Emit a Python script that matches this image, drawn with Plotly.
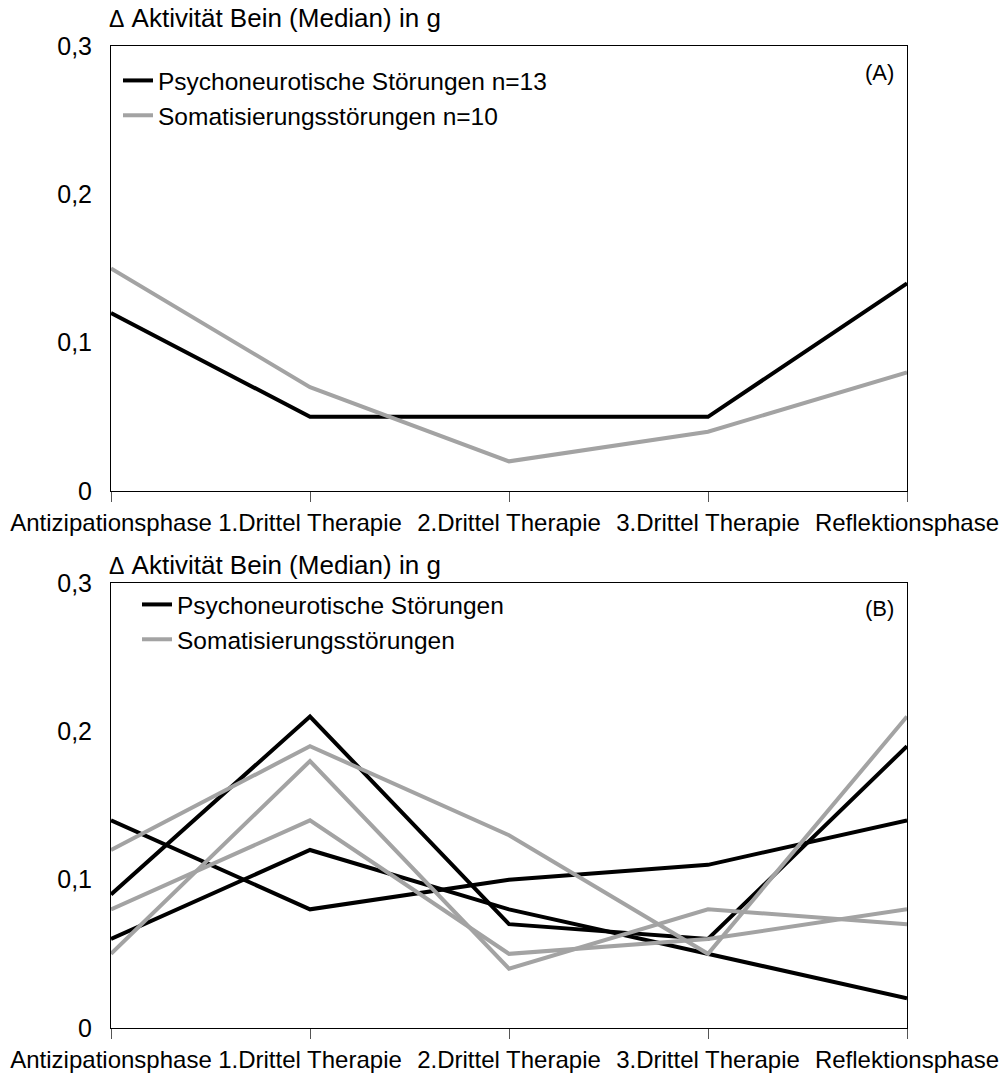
import plotly.graph_objects as go

# ---------------- data ----------------
categories = ["Antizipationsphase", "1.Drittel Therapie", "2.Drittel Therapie",
              "3.Drittel Therapie", "Reflektionsphase"]

# Panel A (group medians)
a_psycho = [0.12, 0.05, 0.05, 0.05, 0.14]
a_somat = [0.15, 0.07, 0.02, 0.04, 0.08]
a_names = ["Psychoneurotische Störungen n=13", "Somatisierungsstörungen n=10"]

# Panel B (individual series)
b_psycho_1 = [0.09, 0.21, 0.07, 0.06, 0.19]
b_psycho_2 = [0.14, 0.08, 0.10, 0.11, 0.14]
b_psycho_3 = [0.06, 0.12, 0.08, 0.05, 0.02]
b_somat_1 = [0.12, 0.19, 0.13, 0.05, 0.21]
b_somat_2 = [0.05, 0.18, 0.04, 0.08, 0.07]
b_somat_3 = [0.08, 0.14, 0.05, 0.06, 0.08]
b_names = ["Psychoneurotische Störungen", "Somatisierungsstörungen"]

y_tickvals = [0, 0.1, 0.2, 0.3]
y_ticktext = ["0", "0,1", "0,2", "0,3"]
y_title = "Aktivität Bein (Median) in g"
panel_labels = ["(A)", "(B)"]

# ---------------- style ----------------
FONT = "Liberation Sans, Arial, sans-serif"
BLACK = "#000000"
GREY = "#a3a3a3"
W, H = 1000, 1073

def px_x(x):
    return x / W

def px_y(y):
    return 1 - y / H

fig = go.Figure()

# Panel A
for vals, name, col in [(a_psycho, a_names[0], BLACK), (a_somat, a_names[1], GREY)]:
    fig.add_trace(go.Scatter(x=categories, y=vals, mode="lines", name=name,
                             line=dict(color=col, width=4),
                             xaxis="x", yaxis="y", legend="legend"))

# Panel B
for i, vals in enumerate([b_psycho_1, b_psycho_2, b_psycho_3]):
    fig.add_trace(go.Scatter(x=categories, y=vals, mode="lines", name=b_names[0],
                             line=dict(color=BLACK, width=4), legendgroup="p",
                             showlegend=(i == 0), xaxis="x2", yaxis="y2", legend="legend2"))
for i, vals in enumerate([b_somat_1, b_somat_2, b_somat_3]):
    fig.add_trace(go.Scatter(x=categories, y=vals, mode="lines", name=b_names[1],
                             line=dict(color=GREY, width=4), legendgroup="s",
                             showlegend=(i == 0), xaxis="x2", yaxis="y2", legend="legend2"))

xdom = [px_x(111), px_x(907)]
ydomA = [px_y(491), px_y(46)]
ydomB = [px_y(1028), px_y(583)]

xaxis_common = dict(domain=xdom, type="category", range=[0, 4], showline=True,
                    linecolor=BLACK, linewidth=1, mirror=True, ticks="outside",
                    ticklen=10, tickcolor="#555555", tickwidth=1, showgrid=False,
                    zeroline=False, tickfont=dict(family=FONT, size=24, color=BLACK),
                    tickangle=0, automargin=False,
                    categoryorder="array", categoryarray=categories, fixedrange=True)
yaxis_common = dict(range=[0, 0.3], tickvals=y_tickvals, ticktext=y_ticktext,
                    showline=True, linecolor=BLACK, linewidth=1, mirror=True,
                    ticks="", showgrid=False, zeroline=False, automargin=False,
                    tickfont=dict(family=FONT, size=25, color=BLACK),
                    ticklabelstandoff=13, fixedrange=True)

fig.update_layout(
    width=W, height=H, autosize=False,
    margin=dict(l=0, r=0, t=0, b=0, pad=0, autoexpand=False),
    paper_bgcolor="white", plot_bgcolor="white",
    font=dict(family=FONT, color=BLACK),
    xaxis=dict(**xaxis_common, anchor="y"),
    yaxis=dict(**yaxis_common, domain=ydomA, anchor="x"),
    xaxis2=dict(**xaxis_common, anchor="y2"),
    yaxis2=dict(**yaxis_common, domain=ydomB, anchor="x2"),
    legend=dict(x=px_x(118), y=px_y(58), xanchor="left", yanchor="top",
                bgcolor="rgba(0,0,0,0)", borderwidth=0,
                font=dict(family=FONT, size=24.5, color=BLACK), tracegroupgap=0,
                itemwidth=30),
    legend2=dict(x=px_x(137), y=px_y(582), xanchor="left", yanchor="top",
                 bgcolor="rgba(0,0,0,0)", borderwidth=0,
                 font=dict(family=FONT, size=24.5, color=BLACK), tracegroupgap=0,
                 itemwidth=30),
    showlegend=True,
)

# axis titles (top-left) and panel labels
for ytop in [18, 565]:
    fig.add_annotation(x=px_x(107), y=px_y(ytop), xref="paper", yref="paper",
                       xanchor="left", yanchor="middle", showarrow=False,
                       text="<span style='font-size:23px'>Δ</span> " + y_title,
                       font=dict(family=FONT, size=26, color=BLACK))

fig.add_annotation(x=px_x(896), y=px_y(73), xref="paper", yref="paper",
                   xanchor="right", yanchor="middle", showarrow=False,
                   text=panel_labels[0], font=dict(family=FONT, size=22, color=BLACK))
fig.add_annotation(x=px_x(896), y=px_y(608), xref="paper", yref="paper",
                   xanchor="right", yanchor="middle", showarrow=False,
                   text=panel_labels[1], font=dict(family=FONT, size=22, color=BLACK))

fig.write_html("out.html", config={"responsive": False})
